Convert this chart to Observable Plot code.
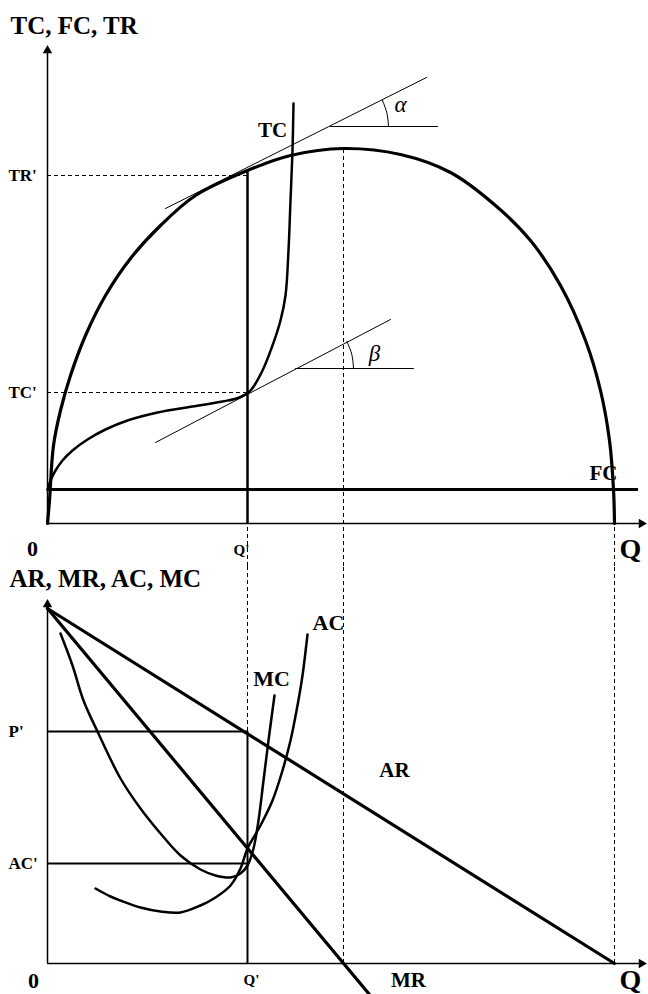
<!DOCTYPE html>
<html><head><meta charset="utf-8">
<script src="https://cdn.jsdelivr.net/npm/d3@7"></script>
<script src="https://cdn.jsdelivr.net/npm/@observablehq/plot@0.6"></script>
<style>html,body{margin:0;padding:0;background:#fff} svg{display:block}</style>
</head><body><div id="chart"></div>
<script>
// ---------- top panel data (Q, value) ----------
const trCurve = [[0,0],[2,23],[6,78],[13,113],[23,148],[38,188],[58,228],[83,265],[113,298],[148,328],[200,353],[243,368],[296,375],[353,369],[403,351],[448,318],[483,283],[513,238],[538,183],[553,133],[562,83],[566,34],[567,0]];
const tcCurve = [[0,34],[3,43],[8,53],[15,63],[25,73],[40,84],[58,94],[80,103],[110,111],[145,117],[175,122],[192,126],[203,133],[215,153],[225,178],[233,203],[238,228],[241,273],[243,323],[245,373],[246,420]];
const fcLevel = [34];
const qPrime = [200];
const qPeak = [296];
const qEnd = [567];
const trPrime = [348];
const tcPrime = [131];
const alphaTangent = [[118,315],[379,446]];
const alphaFlat = [[283,397],[390,397]];
const alphaArc = [[341,397],[339.5,410],[335,423]];
const betaTangent = [[108,81],[343,204]];
const betaFlat = [[248,155],[366,155]];
const betaArc = [[306,155],[304.3,169],[299.4,181.9]];
const topTitles = [
  {q:-37, v:498, t:"TC, FC, TR", size:25},
  {q:-39, v:348, t:"TR'", size:17},
  {q:-39, v:131, t:"TC'", size:17}
];
const topLabels = [
  {q:225, v:393, t:"TC", size:21},
  {q:556, v:50, t:"FC", size:21},
  {q:-15, v:-25, t:"0", size:22},
  {q:194, v:-27, t:"Q'", size:15},
  {q:583, v:-26, t:"Q", size:28}
];
const greek = [
  {q:353, v:419, t:"α"},
  {q:327, v:170, t:"β"}
];

// ---------- bottom panel data (Q, value) ----------
const arLine = [[0,355],[567,0]];
const mrLine = [[0,355],[322,-31]];
const pPrime = [232];
const acPrime = [100];
const curveMC = [[13,330],[25,298],[36,263],[50,232],[73,185],[93,155],[113,130],[133,108],[153,94],[168,88],[183,86],[193,90],[200,98],[206,115],[211,143],[216,183],[221,223],[227,268]];
const curveAC = [[48,75],[63,67],[73,63],[93,56],[113,52],[133,51],[153,58],[168,66],[183,78],[193,95],[200,115],[213,138],[225,163],[235,193],[243,223],[250,258],[255,288],[260,329]];
const botTitles = [
  {q:-38, v:385, t:"AR, MR, AC, MC", size:25},
  {q:-39, v:232, t:"P'", size:17},
  {q:-39, v:100, t:"AC'", size:17}
];
const botLabels = [
  {q:347, v:193, t:"AR", size:21},
  {q:224, v:285, t:"MC", size:22},
  {q:281, v:341, t:"AC", size:22},
  {q:-14, v:-17, t:"0", size:22},
  {q:204, v:-17, t:"Q'", size:15},
  {q:361, v:-17, t:"MR", size:21},
  {q:583, v:-17, t:"Q", size:28}
];

const FONT = "'Liberation Serif','Times New Roman',serif";
const P = d => d[0], V = d => d[1];
const dash = "4,3";
const txt = (data, anchor) => Plot.text(data, {x: "q", y: "v", text: "t", fontSize: "size", textAnchor: anchor, fontWeight: "bold", fill: "black", fontFamily: FONT});

const topChart = Plot.plot({
  width: 648, height: 566, margin: 0,
  x: {domain: [-47, 601], axis: null},
  y: {domain: [-43, 523], axis: null},
  style: {background: "white", fontFamily: FONT},
  marks: [
    Plot.ruleX([0], {y1: 0, y2: 472, stroke: "black", strokeWidth: 1.5}),
    Plot.ruleY([0], {x1: 0, x2: 592, stroke: "black", strokeWidth: 1.5}),
    Plot.dot([[0, 473]], {x: P, y: V, symbol: "triangle", r: 3.5, fill: "black", stroke: null}),
    Plot.dot([[594, 0]], {x: P, y: V, symbol: "triangle", r: 3.5, fill: "black", stroke: null, rotate: 90}),
    Plot.ruleY(trPrime, {x1: 0, x2: qPrime[0], stroke: "black", strokeWidth: 1, strokeDasharray: dash}),
    Plot.ruleY(tcPrime, {x1: 0, x2: qPrime[0], stroke: "black", strokeWidth: 1, strokeDasharray: dash}),
    Plot.ruleX(qPrime, {y1: -43, y2: 0, stroke: "black", strokeWidth: 1, strokeDasharray: dash}),
    Plot.ruleX(qPeak, {y1: -43, y2: 375, stroke: "black", strokeWidth: 1, strokeDasharray: dash}),
    Plot.ruleX(qEnd, {y1: -43, y2: 0, stroke: "black", strokeWidth: 1, strokeDasharray: dash}),
    Plot.ruleY(fcLevel, {x1: 0, x2: 591, stroke: "black", strokeWidth: 3}),
    Plot.ruleX(qPrime, {y1: 0, y2: trPrime[0] + 3, stroke: "black", strokeWidth: 2.5}),
    Plot.line(alphaTangent, {x: P, y: V, stroke: "black", strokeWidth: 1}),
    Plot.line(alphaFlat, {x: P, y: V, stroke: "black", strokeWidth: 1}),
    Plot.line(alphaArc, {x: P, y: V, stroke: "black", strokeWidth: 1, curve: "natural"}),
    Plot.line(betaTangent, {x: P, y: V, stroke: "black", strokeWidth: 1}),
    Plot.line(betaFlat, {x: P, y: V, stroke: "black", strokeWidth: 1}),
    Plot.line(betaArc, {x: P, y: V, stroke: "black", strokeWidth: 1, curve: "natural"}),
    Plot.line(trCurve, {x: P, y: V, stroke: "black", strokeWidth: 3.2, curve: "catmull-rom"}),
    Plot.line(tcCurve, {x: P, y: V, stroke: "black", strokeWidth: 2.5, curve: "catmull-rom"}),
    txt(topTitles, "start"),
    txt(topLabels, "middle"),
    Plot.text(greek, {x: "q", y: "v", text: "t", fontSize: 23, fontStyle: "italic", fill: "black", fontFamily: FONT})
  ]
});

const botChart = Plot.plot({
  width: 648, height: 428, margin: 0,
  x: {domain: [-47, 601], axis: null},
  y: {domain: [-31, 397], axis: null},
  style: {background: "white", fontFamily: FONT},
  marks: [
    Plot.ruleX([0], {y1: 0, y2: 358, stroke: "black", strokeWidth: 1.5}),
    Plot.ruleY([0], {x1: 0, x2: 592, stroke: "black", strokeWidth: 1.5}),
    Plot.dot([[0, 359]], {x: P, y: V, symbol: "triangle", r: 3.5, fill: "black", stroke: null}),
    Plot.dot([[594, 0]], {x: P, y: V, symbol: "triangle", r: 3.5, fill: "black", stroke: null, rotate: 90}),
    Plot.ruleX(qPrime, {y1: pPrime[0], y2: 397, stroke: "black", strokeWidth: 1, strokeDasharray: dash}),
    Plot.ruleX(qPeak, {y1: 0, y2: 397, stroke: "black", strokeWidth: 1, strokeDasharray: dash}),
    Plot.ruleX(qEnd, {y1: 0, y2: 397, stroke: "black", strokeWidth: 1, strokeDasharray: dash}),
    Plot.ruleY(pPrime, {x1: 0, x2: qPrime[0], stroke: "black", strokeWidth: 2}),
    Plot.ruleY(acPrime, {x1: 0, x2: qPrime[0], stroke: "black", strokeWidth: 2}),
    Plot.ruleX(qPrime, {y1: 0, y2: pPrime[0], stroke: "black", strokeWidth: 2}),
    Plot.line(arLine, {x: P, y: V, stroke: "black", strokeWidth: 3.2}),
    Plot.line(mrLine, {x: P, y: V, stroke: "black", strokeWidth: 3.2}),
    Plot.line(curveMC, {x: P, y: V, stroke: "black", strokeWidth: 2.5, curve: "catmull-rom"}),
    Plot.line(curveAC, {x: P, y: V, stroke: "black", strokeWidth: 2.5, curve: "catmull-rom"}),
    txt(botTitles, "start"),
    txt(botLabels, "middle")
  ]
});

const root = document.getElementById("chart");
root.appendChild(topChart);
root.appendChild(botChart);
</script></body></html>
